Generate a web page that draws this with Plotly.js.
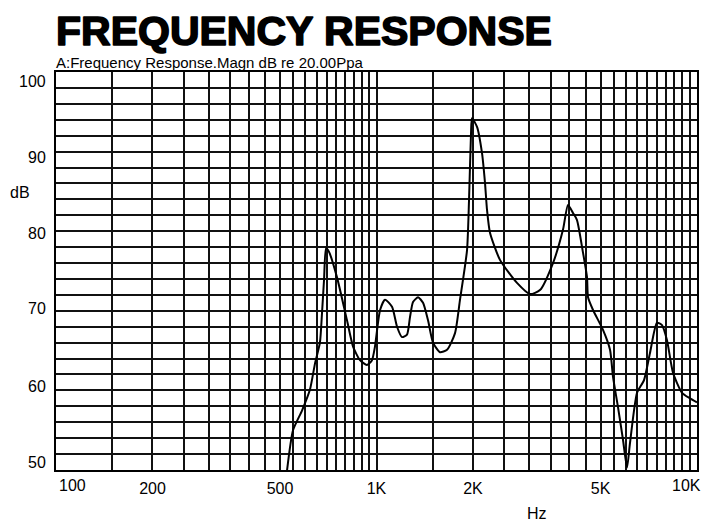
<!DOCTYPE html>
<html>
<head>
<meta charset="utf-8">
<script src="https://cdn.plot.ly/plotly-3.0.1.min.js"></script>
<style>
  html, body { margin: 0; padding: 0; background: #fff; }
  #chart { width: 720px; height: 531px; }
  #chart g.annotation[data-index="0"] text { stroke: #000; stroke-width: 1.6px; stroke-linejoin: round; }
</style>
</head>
<body>
<div id="chart"></div>
<script>
// ---- data ----
const freqHz = [526, 549, 586, 620, 643, 666, 676, 686, 696, 711, 753, 809, 845, 888, 934, 968, 989,
  1026, 1063, 1118, 1159, 1201, 1245, 1272, 1300, 1348, 1397, 1448, 1501, 1578, 1660, 1758, 1822,
  1916, 1944, 1972, 1986, 2059, 2134, 2180, 2212, 2260, 2428, 2744, 3013, 3236, 3554, 3819, 3958,
  4103, 4222, 4409, 4538, 4571, 4738, 5090, 5353, 5470, 5669, 5876, 6048, 6180, 6500, 6835, 7134,
  7502, 7776, 8061, 8418, 8980, 9510, 10000];
const magDb = [50.0, 55.0, 57.5, 60.1, 63.4, 66.0, 69.7, 73.9, 77.9, 77.4, 74.2, 68.8, 65.5, 63.8, 63.2, 63.8, 65.5,
  70.1, 71.4, 70.5, 68.0, 66.7, 67.0, 69.2, 71.1, 71.7, 71.0, 68.8, 66.0, 64.8, 65.1, 67.2, 71.4,
  77.6, 83.9, 92.3, 94.2, 93.1, 89.8, 86.1, 82.7, 79.8, 76.4, 73.5, 72.1, 72.6, 76.0, 80.2, 83.3,
  82.3, 81.4, 77.3, 74.2, 71.7, 70.1, 67.6, 65.1, 61.7, 57.9, 53.8, 50.3, 53.4, 59.7, 61.3, 64.7,
  68.5, 68.2, 66.3, 62.2, 59.7, 59.0, 58.5];

const xGridVals = [150, 200, 250, 300, 350, 400, 450, 500, 550, 600, 650, 700, 750, 800, 850, 900, 950, 1000,
  1500, 2000, 2500, 3000, 3500, 4000, 4500, 5000, 5500, 6000, 6500, 7000, 7500, 8000, 8500, 9000, 9500];
const xLabelVals = [200, 500, 1000, 2000, 5000];
const xLabelText = ["200", "500", "1K", "2K", "5K"];
const xEndLabels = ["100", "10K"];
const yGridVals = [52, 54, 56, 58, 60, 62, 64, 66, 68, 70, 72, 74, 76, 78, 80, 82, 84, 86, 88, 90, 92, 94, 96, 98];
const yLabelText = ["100", "90", "80", "70", "60", "50"];

const titleText = "FREQUENCY RESPONSE";
const subtitleText = "A:Frequency Response.Magn dB re 20.00Ppa";
const xUnit = "Hz";
const yUnit = "dB";

// ---- build ----
const xTickText = xGridVals.map(v => {
  const i = xLabelVals.indexOf(v);
  return i >= 0 ? xLabelText[i] : "";
});

const font = "Liberation Sans, Arial, Helvetica, sans-serif";
const labelFont = { family: font, size: 16, color: "#000" };

// y labels sit slightly compressed toward the middle in the reference
const yLabelPaperY = [0.976, 0.786, 0.595, 0.405, 0.211, 0.020];

const trace = {
  x: freqHz,
  y: magDb,
  type: "scatter",
  mode: "lines",
  line: { color: "#000", width: 2, shape: "spline", smoothing: 0.6 },
  hoverinfo: "x+y"
};

const annotations = [
  { xref: "paper", yref: "paper", x: -0.003, y: 1.103, xanchor: "left", yanchor: "middle",
    text: "<b>" + titleText + "</b>", showarrow: false,
    font: { family: font, size: 41, color: "#000" } },
  { xref: "paper", yref: "paper", x: -0.003, y: 1.023, xanchor: "left", yanchor: "middle",
    text: subtitleText, showarrow: false, font: { family: font, size: 15, color: "#000" } },
  { xref: "paper", yref: "paper", x: -0.056, y: 0.698, xanchor: "center", yanchor: "middle",
    text: yUnit, showarrow: false, font: labelFont },
  { xref: "paper", yref: "paper", x: 0.75, y: -0.11, xanchor: "center", yanchor: "middle",
    text: xUnit, showarrow: false, font: labelFont },
  { xref: "paper", yref: "paper", x: 0.025, y: -0.04, xanchor: "center", yanchor: "middle",
    text: xEndLabels[0], showarrow: false, font: labelFont },
  { xref: "paper", yref: "paper", x: 0.984, y: -0.04, xanchor: "center", yanchor: "middle",
    text: xEndLabels[1], showarrow: false, font: labelFont }
];
yLabelText.forEach((t, i) => {
  annotations.push({ xref: "paper", yref: "paper", x: -0.013, y: yLabelPaperY[i],
    xanchor: "right", yanchor: "middle", text: t, showarrow: false, font: labelFont });
});

const layout = {
  width: 720,
  height: 531,
  margin: { l: 56, r: 23, t: 72, b: 61 },
  paper_bgcolor: "#fff",
  plot_bgcolor: "#fff",
  showlegend: false,
  font: { family: font, color: "#000", size: 16 },
  xaxis: {
    type: "log",
    range: [2, 4],
    tickmode: "array",
    tickvals: xGridVals,
    ticktext: xTickText,
    ticks: "",
    showgrid: true,
    gridcolor: "#111",
    gridwidth: 2,
    zeroline: false,
    showline: true,
    linecolor: "#000",
    linewidth: 2,
    mirror: true,
    tickfont: labelFont,
    ticklabelstandoff: 3
  },
  yaxis: {
    range: [50, 100],
    tickmode: "array",
    tickvals: yGridVals,
    showticklabels: false,
    ticks: "",
    showgrid: true,
    gridcolor: "#111",
    gridwidth: 2,
    zeroline: false,
    showline: true,
    linecolor: "#000",
    linewidth: 2,
    mirror: true
  },
  annotations: annotations
};

Plotly.newPlot("chart", [trace], layout, { staticPlot: true, displayModeBar: false });
</script>
</body>
</html>
